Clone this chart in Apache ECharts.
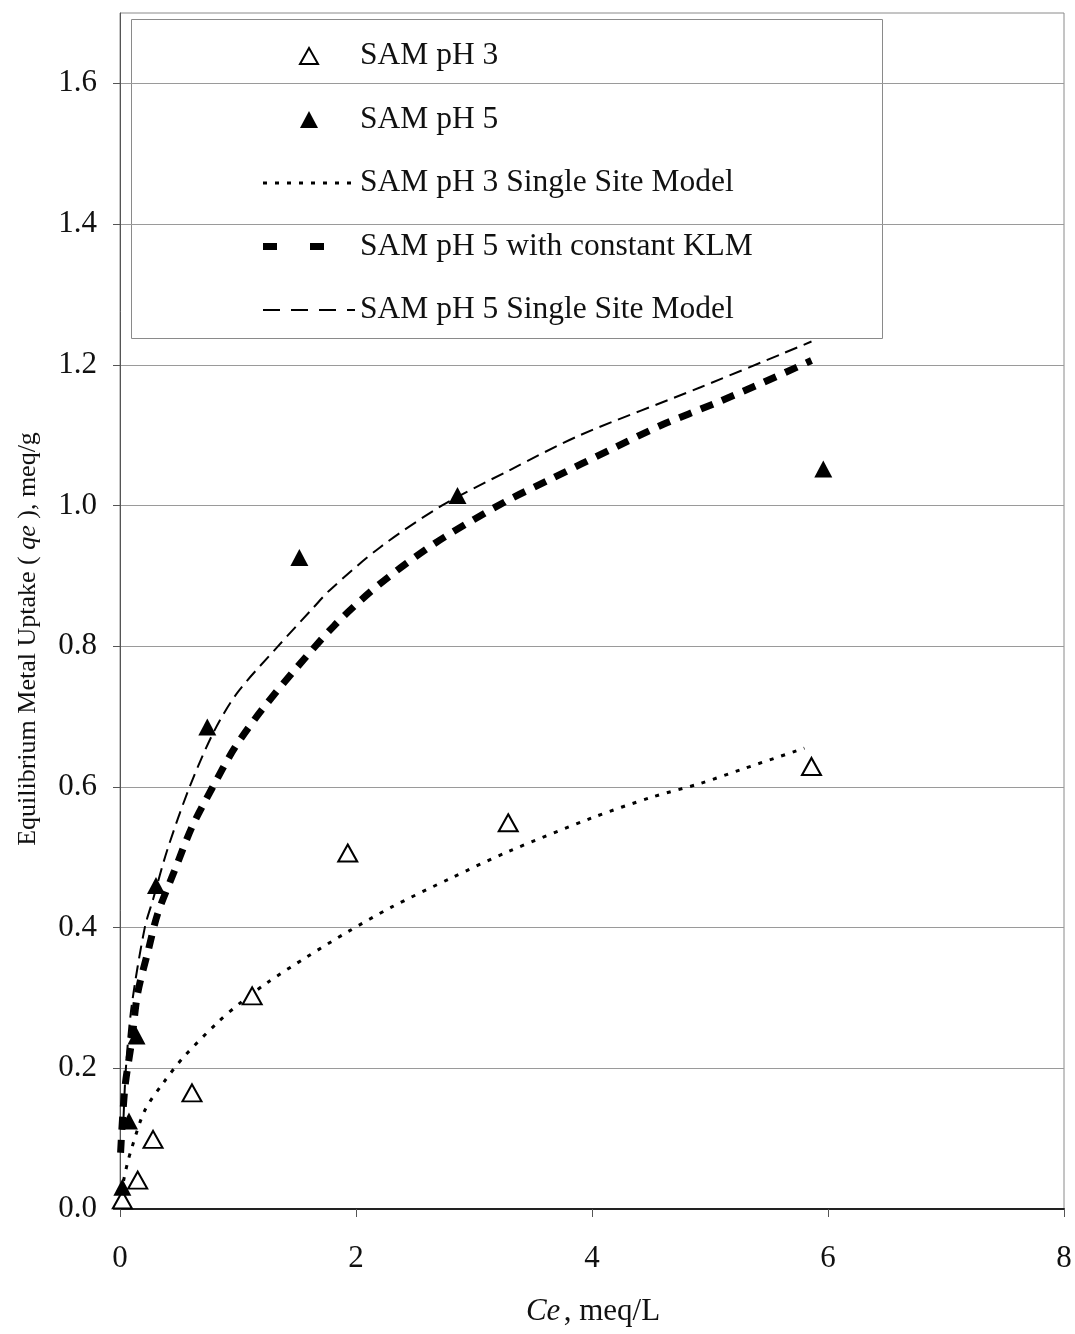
<!DOCTYPE html>
<html>
<head>
<meta charset="utf-8">
<title>SAM metal uptake isotherms</title>
<script src="https://cdn.jsdelivr.net/npm/echarts@6/dist/echarts.min.js"></script>
<style>
  html, body { margin: 0; padding: 0; background: #fff; }
  #chart { width: 1075px; height: 1334px; }
</style>
</head>
<body>
<div id="chart"></div>
<script>
// Measured equilibrium data: [Ce (meq/L), qe (meq/g)]
const samPH3 = [
  [0.02, 0.013], [0.15, 0.041], [0.28, 0.099], [0.61, 0.165],
  [1.12, 0.303], [1.93, 0.506], [3.29, 0.549], [5.86, 0.629]
];
const samPH5 = [
  [0.02, 0.031], [0.076, 0.125], [0.14, 0.246], [0.305, 0.46],
  [0.74, 0.685], [1.52, 0.926], [2.86, 1.014], [5.96, 1.052]
];

// Model curves
const pH3SingleSite = [
  [0.03, 0.04], [0.06, 0.063], [0.10, 0.087], [0.21, 0.14], [0.37, 0.18],
  [0.54, 0.216], [0.82, 0.264], [1.02, 0.293], [1.25, 0.322], [1.58, 0.358],
  [1.93, 0.394], [2.30, 0.429], [2.80, 0.47], [3.29, 0.508], [4.00, 0.556],
  [4.50, 0.585], [4.92, 0.605], [5.27, 0.625], [5.80, 0.655]
];
const pH5ConstantKLM = [
  [0.005, 0.08], [0.04, 0.17], [0.10, 0.24], [0.15, 0.307], [0.24, 0.368],
  [0.32, 0.42], [0.46, 0.48], [0.61, 0.543], [0.78, 0.598], [0.97, 0.655],
  [1.20, 0.709], [1.50, 0.77], [1.82, 0.83], [2.12, 0.877], [2.43, 0.918],
  [2.75, 0.955], [3.26, 1.005], [3.62, 1.035], [4.20, 1.083], [4.60, 1.115],
  [5.04, 1.145], [5.40, 1.171], [5.86, 1.206]
];
const pH5SingleSite = [
  [0.03, 0.13], [0.05, 0.20], [0.10, 0.29], [0.21, 0.40], [0.28, 0.44],
  [0.40, 0.51], [0.59, 0.60], [0.80, 0.68], [1.00, 0.735], [1.34, 0.80],
  [1.64, 0.855], [1.78, 0.88], [2.20, 0.94], [2.73, 1.00], [3.30, 1.05],
  [3.90, 1.10], [4.92, 1.168], [5.86, 1.233]
];

const seriesNames = [
  'SAM pH 3',
  'SAM pH 5',
  'SAM pH 3 Single Site Model',
  'SAM pH 5 with constant KLM',
  'SAM pH 5 Single Site Model'
];

const xTicks = [0, 2, 4, 6, 8];
const yTicks = [0, 0.2, 0.4, 0.6, 0.8, 1.0, 1.2, 1.4, 1.6];

const serif = '"Liberation Serif", "Times New Roman", "DejaVu Serif", serif';
const ink = '#111';

// Line looks of the plotted curves
const dottedStyle = { width: 3, dash: [4, 8] };
const thickDashStyle = { width: 7, dash: [13, 10] };
const thinDashStyle = { width: 2, dash: [13, 7] };

// Legend box drawn as a block of graphic elements
function legendGraphics() {
  const boxX = 131, boxY = 19, boxW = 751, boxH = 319;
  const rowY0 = 56, rowStep = 63.5;
  const keyX0 = 263, keyX1 = 355, keyMid = 309, textX = 360;
  const children = [{
    type: 'rect',
    shape: { x: boxX + 0.5, y: boxY + 0.5, width: boxW, height: boxH },
    style: { fill: '#fff', stroke: '#8a8a8a', lineWidth: 1 }
  }];
  const tri = (cx, cy, w, h) => [[cx, cy - h / 2], [cx + w / 2, cy + h / 2], [cx - w / 2, cy + h / 2]];
  seriesNames.forEach((name, i) => {
    const y = rowY0 + rowStep * i;
    if (i === 0) {
      children.push({ type: 'polygon', shape: { points: tri(keyMid, y, 18, 16) },
        style: { fill: '#fff', stroke: '#000', lineWidth: 2 } });
    } else if (i === 1) {
      children.push({ type: 'polygon', shape: { points: tri(keyMid, y, 18, 17) },
        style: { fill: '#000', stroke: null } });
    } else {
      const st = i === 2 ? { width: 3, dash: [4, 8] }
        : i === 3 ? { width: 7, dash: [14, 33] }
        : { width: 2, dash: [17, 11] };
      children.push({ type: 'line', shape: { x1: keyX0, y1: y, x2: keyX1, y2: y },
        style: { stroke: '#000', lineWidth: st.width, lineDash: st.dash, lineCap: 'butt' } });
    }
    children.push({ type: 'text', x: textX, y: y,
      style: { text: name, fontFamily: serif, fontSize: 31.5, fill: ink, align: 'left', verticalAlign: 'middle' } });
  });
  return { type: 'group', z: 100, silent: true, children };
}

const chart = echarts.init(document.getElementById('chart'), null, { renderer: 'canvas' });

chart.setOption({
  animation: false,
  backgroundColor: '#fff',
  textStyle: { fontFamily: serif, color: ink },
  grid: {
    left: 120, right: 11, top: 13, bottom: 125,
    show: true, borderColor: '#8a8a8a', borderWidth: 1, backgroundColor: 'transparent'
  },
  xAxis: {
    type: 'value', min: 0, max: 8, interval: 2,
    axisLine: { show: true, onZero: false, lineStyle: { color: '#222', width: 2 } },
    axisTick: { show: true, length: 8, inside: false, customValues: xTicks, lineStyle: { color: '#555', width: 1 } },
    axisLabel: { customValues: xTicks, margin: 34, fontSize: 31, fontFamily: serif, color: ink },
    splitLine: { show: false }
  },
  yAxis: {
    type: 'value', min: 0, max: 1.7, interval: 0.2,
    axisLine: { show: true, onZero: false, lineStyle: { color: '#555', width: 1 } },
    axisTick: { show: true, length: 7, customValues: yTicks, lineStyle: { color: '#555', width: 1 } },
    axisLabel: {
      customValues: yTicks, margin: 23, fontSize: 31, fontFamily: serif, color: ink,
      formatter: v => v.toFixed(1)
    },
    splitLine: { show: true, lineStyle: { color: '#9a9a9a', width: 1 } }
  },
  graphic: [
    legendGraphics(),
    {
      type: 'text',
      x: 28, y: 639, rotation: Math.PI / 2,
      style: {
        text: '{n|Equilibrium Metal Uptake ( }{i|qe}{n| ), meq/g}',
        align: 'center', verticalAlign: 'middle',
        rich: {
          n: { fontFamily: serif, fontSize: 26, fill: ink },
          i: { fontFamily: serif, fontSize: 26, fontStyle: 'italic', fill: ink }
        }
      }
    },
    {
      type: 'text',
      x: 593, y: 1312,
      style: {
        text: '{i|Ce} {n|, meq/L}',
        align: 'center', verticalAlign: 'middle',
        rich: {
          n: { fontFamily: serif, fontSize: 31, fill: ink },
          i: { fontFamily: serif, fontSize: 31, fontStyle: 'italic', fill: ink }
        }
      }
    }
  ],
  series: [
    {
      name: seriesNames[0], type: 'scatter', data: samPH3, z: 5,
      symbol: 'triangle', symbolSize: [19, 17],
      itemStyle: { color: '#fff', borderColor: '#000', borderWidth: 2, opacity: 1 }
    },
    {
      name: seriesNames[1], type: 'scatter', data: samPH5, z: 5,
      symbol: 'triangle', symbolSize: [18, 17],
      itemStyle: { color: '#000', borderColor: '#000', borderWidth: 0, opacity: 1 }
    },
    {
      name: seriesNames[2], type: 'line', data: pH3SingleSite, z: 3,
      smooth: 0.3, symbol: 'none', showSymbol: false,
      lineStyle: { color: '#000', width: dottedStyle.width, type: dottedStyle.dash, cap: 'butt' }
    },
    {
      name: seriesNames[3], type: 'line', data: pH5ConstantKLM, z: 3,
      smooth: 0.3, symbol: 'none', showSymbol: false,
      lineStyle: { color: '#000', width: thickDashStyle.width, type: thickDashStyle.dash, cap: 'butt' }
    },
    {
      name: seriesNames[4], type: 'line', data: pH5SingleSite, z: 3,
      smooth: 0.3, symbol: 'none', showSymbol: false,
      lineStyle: { color: '#000', width: thinDashStyle.width, type: thinDashStyle.dash, cap: 'butt' }
    }
  ]
});
</script>
</body>
</html>
